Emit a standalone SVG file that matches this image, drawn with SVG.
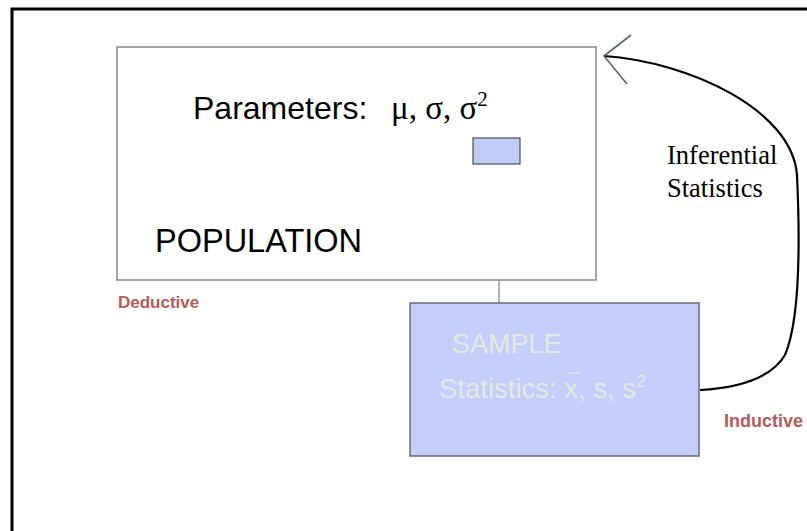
<svg xmlns="http://www.w3.org/2000/svg" width="807" height="531" viewBox="0 0 807 531">
<style>
.sans{font-family:"Liberation Sans",Arial,sans-serif}
.serif{font-family:"Liberation Serif","Times New Roman",serif}
.red{font-family:"Liberation Sans",Arial,sans-serif;font-weight:bold;fill:#b85a5a}
.wt{fill:#e4e9e0}
</style>
<rect width="807" height="531" fill="#fff"/>
<path d="M12,531 V9 H807" fill="none" stroke="#000" stroke-width="3"/>
<g id="connectors">
<line x1="499" y1="164" x2="499" y2="303" stroke="#808080" stroke-width="1.2"/>
<path d="M700,390 C735,388 770,380 785,355 C800,320 800,240 797,175 C792,110 690,62 604,56" fill="none" stroke="#000" stroke-width="2.2"/>
<path d="M631,35 L604,56 L627,84" fill="none" stroke="#55627a" stroke-width="1.6"/>
</g>
<g id="population">
<rect x="117" y="47" width="479" height="233" fill="#fff" stroke="#888" stroke-width="1.5"/>
<text x="193" y="119" class="sans" font-size="32">Parameters:</text>
<text x="391" y="119" class="serif" font-size="33">μ, σ, σ<tspan dy="-13" font-size="21">2</tspan></text>
<text x="155" y="252" class="sans" font-size="32.5">POPULATION</text>
</g>
<g id="param-box">
<rect x="473" y="138" width="47" height="26" fill="#c0ccf8" stroke="#333" stroke-width="1"/>
</g>
<g id="sample">
<rect x="410" y="303" width="289" height="153" fill="#c3cefb" stroke="#666a80" stroke-width="1.5"/>
<text x="452" y="353" class="sans wt" font-size="27">SAMPLE</text>
<text x="439" y="398" class="sans wt" font-size="27.5">Statistics: x, s, s<tspan dy="-11" font-size="17">2</tspan></text>
<line x1="568" y1="373" x2="579" y2="373" stroke="#e4e9e0" stroke-width="1.2"/>
</g>
<g id="inferential">
<text x="667" y="164" class="serif" font-size="26.5">Inferential</text>
<text x="667" y="197" class="serif" font-size="26.5">Statistics</text>
</g>
<text x="118" y="308" class="red" font-size="17">Deductive</text>
<text x="724" y="427" class="red" font-size="18">Inductive</text>
</svg>
